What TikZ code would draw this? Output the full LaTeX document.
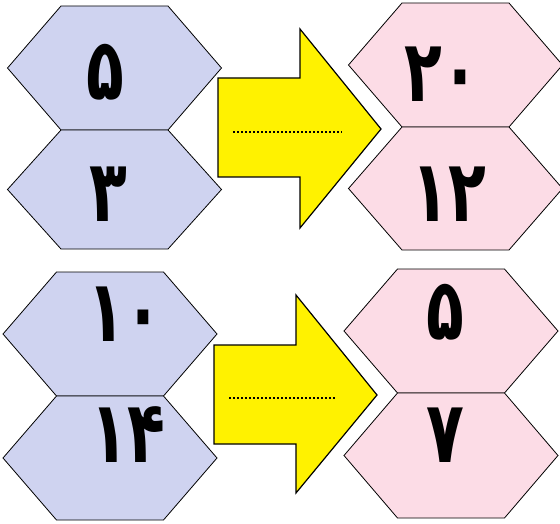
\documentclass[tikz,border=0pt]{standalone}
\usepackage{fontspec}
\usepackage{graphicx}
\newfontfamily\arabicfont[Script=Arabic]{DejaVu Sans}
\definecolor{hexblue}{RGB}{207,211,240}
\definecolor{hexpink}{RGB}{252,220,230}
\definecolor{arrowyellow}{RGB}{255,242,0}
\tikzset{
  hexcell/.style={draw=black,line width=0.8pt,line join=miter},
  bigarrow/.style={draw=black,fill=arrowyellow,line width=1.2pt,line join=miter},
  blank/.style={draw=black,line width=1.5pt,dash pattern=on 2pt off 2pt},
  digit/.style={inner sep=0pt}
}
\newcommand\dg[1]{\scalebox{0.72}[1]{\arabicfont\bfseries\fontsize{86}{86}\selectfont #1}}
% #1 center x, #2 top y, #3 middle y, #4 bottom y, #5 colour
\newcommand\hexpair[5]{%
  \path[hexcell,fill=#5] (#1-107,{(#2+#3)/2}) -- (#1-53.5,#2) -- (#1+53.5,#2) -- (#1+107,{(#2+#3)/2}) -- (#1+53.5,#3) -- (#1-53.5,#3) -- cycle;
  \path[hexcell,fill=#5] (#1-107,{(#3+#4)/2}) -- (#1-53.5,#3) -- (#1+53.5,#3) -- (#1+107,{(#3+#4)/2}) -- (#1+53.5,#4) -- (#1-53.5,#4) -- cycle;
}
\begin{document}
\begin{tikzpicture}[x=1pt,y=-1pt]
\useasboundingbox (0,0) rectangle (560,524);
% hexagon pairs
\hexpair{114.5}{6}{130}{249}{hexblue}
\hexpair{455.5}{3}{127}{250}{hexpink}
\hexpair{110}{272}{396}{520}{hexblue}
\hexpair{451}{269}{393}{518}{hexpink}
% arrows
\path[bigarrow] (218,78) -- (300,78) -- (300,29) -- (381,129) -- (300,228) -- (300,177) -- (218,177) -- cycle;
\path[bigarrow] (214,345) -- (296,345) -- (296,295) -- (377,395) -- (296,493) -- (296,444) -- (214,444) -- cycle;
\coordinate (b1s) at (233,132);
\coordinate (b1e) at (342,132);
\coordinate (b2s) at (229,398);
\coordinate (b2e) at (336,398);
\draw[blank] (b1s) -- (b1e);
\draw[blank] (b2s) -- (b2e);
% digits
\node[digit] (a1) at (105,72) {\dg{۵}};
\node[digit] (a2) at (108,194) {\dg{۳}};
\node[digit] (r1) at (442,74) {\dg{۲۰}};
\node[digit] (r2) at (449,194) {\dg{۱۲}};
\node[digit] (c1) at (125,314) {\dg{۱۰}};
\node[digit] (c2) at (128,435) {\dg{۱۴}};
\node[digit] (s1) at (445,312) {\dg{۵}};
\node[digit] (s2) at (445,435) {\dg{۷}};
\end{tikzpicture}
\end{document}
